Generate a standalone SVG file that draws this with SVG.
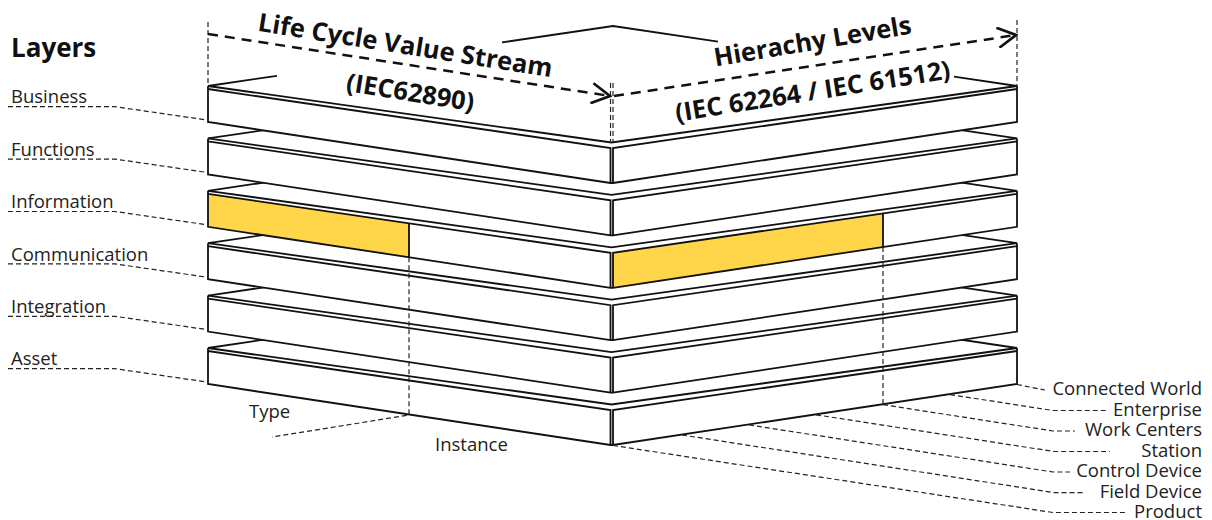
<svg xmlns="http://www.w3.org/2000/svg" xmlns:xlink="http://www.w3.org/1999/xlink" width="1212" height="520" viewBox="0 0 1212 520">
<style>
  .fill{fill:#fff;stroke:none}
  .edge{fill:none;stroke:#111;stroke-width:1.8;stroke-linejoin:miter}
  .yel{fill:#FFD64A;stroke:none}
  .lead{fill:none;stroke:#222;stroke-width:1.2;stroke-dasharray:5 3}
  .arrow{fill:none;stroke:#111;stroke-width:2.5;stroke-dasharray:10 7}
  .lbl{font-family:"Open Sans","Liberation Sans",sans-serif;font-size:18.5px;fill:#222}
  .title{font-family:"Open Sans","Liberation Sans",sans-serif;font-size:25.5px;font-weight:bold;fill:#111}
  .head{font-family:"Open Sans","Liberation Sans",sans-serif;font-size:26px;font-weight:bold;fill:#111}
</style>
<defs>
  <marker id="chev" markerUnits="userSpaceOnUse" markerWidth="22" markerHeight="22" viewBox="0 0 20 20" refX="18" refY="10" orient="auto">
    <path d="M1.4,0.8 L18,10 L1.4,19.2" fill="none" stroke="#111" stroke-width="2.5"/>
  </marker>
  <polygon id="slabFill" class="fill" points="208,86 613,26 1017,86 1017,122 613,183 610.5,183 208,122"/>
  <path id="slabLines" class="edge" d="M208,86 V122 L610.5,183 H613 L1017,122 V86 M208,86 L611.5,142.5 L1017,86 M208,89 L610.5,148 V183 M613,183 V148 L1017,89"/>
  <path id="slabBack" class="edge" d="M208,86 L613,26 L1017,86"/>
</defs>

<g id="layer-asset" transform="translate(0,262)">
  <use href="#slabFill"/><use href="#slabBack"/><use href="#slabLines"/>
</g>
<g id="layer-integration" transform="translate(0,209.6)">
  <use href="#slabFill"/><use href="#slabBack"/><use href="#slabLines"/>
</g>
<g id="layer-communication" transform="translate(0,157.2)">
  <use href="#slabFill"/><use href="#slabBack"/><use href="#slabLines"/>
</g>
<g id="layer-information" transform="translate(0,104.8)">
  <use href="#slabFill"/>
  <polygon class="yel" points="208,89 409,118.5 409,152.5 208,122"/>
  <polygon class="yel" points="613,148 883,108.6 883,142.2 613,183"/>
  <use href="#slabBack"/><use href="#slabLines"/>
  <path class="edge" d="M409,118.5 V152.5 M883,108.6 V142.2"/>
</g>
<g id="layer-functions" transform="translate(0,52.4)">
  <use href="#slabFill"/><use href="#slabBack"/><use href="#slabLines"/>
</g>
<g id="layer-business">
  <use href="#slabFill"/>
  <path class="edge" d="M208,86 L277,75.8 M502,42.4 L613,26 L718,41.6 M954,76.6 L1017,86"/>
  <use href="#slabLines"/>
</g>

<g id="connectors">
  <path class="lead" d="M208,22 V86 M1017,20 V86 M610.5,83 V143 M613,83 V143"/>
  <path class="arrow" d="M208,34 L610,96" marker-end="url(#chev)"/>
  <path class="arrow" d="M614,96 L1016,35" marker-end="url(#chev)"/>
  <path class="lead" d="M8,106.7 H115 L207,120"/>
  <path class="lead" d="M8,159.1 H115 L207,172.4"/>
  <path class="lead" d="M8,211.5 H115 L207,224.8"/>
  <path class="lead" d="M8,263.9 H115 L207,277.2"/>
  <path class="lead" d="M8,316.3 H115 L207,329.6"/>
  <path class="lead" d="M8,368.7 H115 L207,382"/>
  <path class="lead" d="M409,257.3 V415 L272,437"/>
  <path class="lead" d="M883,247 V404.7"/>
  <path class="lead" d="M1017,384.5 L1045,390"/>
  <path class="lead" d="M950,394.6 L1053,410.5 H1106"/>
  <path class="lead" d="M883,404.7 L1053,431 H1075"/>
  <path class="lead" d="M816,414.8 L1054,451.5 H1110"/>
  <path class="lead" d="M749,424.9 L1053,472 H1070"/>
  <path class="lead" d="M682,435 L1054,492.6 H1085"/>
  <path class="lead" d="M613,445.5 L1053,512.5 H1128"/>
</g>

<g id="titles">
  <text class="head" x="11" y="57">Layers</text>
  <text class="title" x="404" y="54" text-anchor="middle" transform="rotate(9 404 54)">Life Cycle Value Stream</text>
  <text class="title" x="409" y="101" text-anchor="middle" transform="rotate(9 409 101)">(IEC62890)</text>
  <text class="title" x="814" y="50" text-anchor="middle" transform="rotate(-9.5 814 50)">Hierachy Levels</text>
  <text class="title" x="814" y="100" text-anchor="middle" transform="rotate(-9 814 100)">(IEC 62264 / IEC 61512)</text>
</g>

<g id="layer-labels">
  <text class="lbl" x="11" y="103.3">Business</text>
  <text class="lbl" x="11" y="155.7">Functions</text>
  <text class="lbl" x="11" y="208.1">Information</text>
  <text class="lbl" x="11" y="260.5">Communication</text>
  <text class="lbl" x="11" y="312.9">Integration</text>
  <text class="lbl" x="11" y="365.3">Asset</text>
  <text class="lbl" x="249" y="418">Type</text>
  <text class="lbl" x="435" y="451">Instance</text>
</g>

<g id="hierarchy-labels">
  <text class="lbl" x="1202" y="395" text-anchor="end">Connected World</text>
  <text class="lbl" x="1202" y="415.6" text-anchor="end">Enterprise</text>
  <text class="lbl" x="1202" y="436.2" text-anchor="end">Work Centers</text>
  <text class="lbl" x="1202" y="456.8" text-anchor="end">Station</text>
  <text class="lbl" x="1202" y="477.4" text-anchor="end">Control Device</text>
  <text class="lbl" x="1202" y="497.6" text-anchor="end">Field Device</text>
  <text class="lbl" x="1202" y="517.6" text-anchor="end">Product</text>
</g>
</svg>
